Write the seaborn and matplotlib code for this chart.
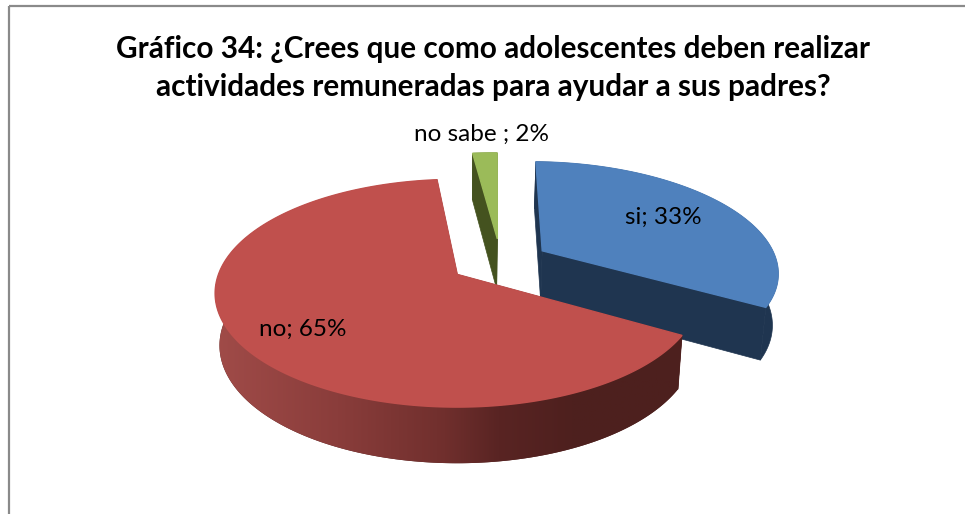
import numpy as np
import matplotlib
matplotlib.use("Agg")
import matplotlib.pyplot as plt
import seaborn as sns
from matplotlib.colors import LinearSegmentedColormap
from matplotlib.patches import Rectangle
from matplotlib.transforms import Transform

categories = ["si", "no", "no sabe "]
percentages = [33, 65, 2]
title_lines = ["Gráfico 34: ¿Crees que como adolescentes deben realizar",
               "actividades remuneradas para ayudar a sus padres?"]
top_colors = ["#4f81bd", "#c0504d", "#9bbb59"]
wall_colors = ["#1f3550", "#4f201e", "#44521f"]

sns.set_theme(style="white")
plt.rcParams["font.family"] = ["Lato", "DejaVu Sans"]

PX, PY, RX, RY, K = 458.0, 275.0, 239.0, 111.0, -0.165
DEPTH, SHRINK = 51.5, 0.982


class Tilt(Transform):
    """Perspective view of the pie plane, onto the pixel-like data axes."""
    input_dims = output_dims = 2
    is_separable = False

    def transform_non_affine(self, values):
        v = np.asarray(values, dtype=float)
        w = 1 - K * v[:, 1]
        return np.column_stack([PX + RX * v[:, 0] / w, PY - RY * v[:, 1] / w])


def lowered(xy, plane):
    """The same points on the underside of the tilted cylinder."""
    w = 1 - 0.5 * K * plane[:, 1]
    return np.column_stack([PX + (xy[:, 0] - PX) * SHRINK, xy[:, 1] + DEPTH / w])


fig = plt.figure(figsize=(9.65, 5.14), dpi=100)
ax = fig.add_axes([0, 0, 1, 1])
tilt = Tilt()

# the pie supplies each slice's angles and exploded centre
wedges, _ = ax.pie(percentages, explode=[0.21, 0.22, 0.22], center=(0.182, 0.124),
                   startangle=88.5, counterclock=False, colors=top_colors,
                   wedgeprops={"linewidth": 0})
ax.set_frame_on(False)

red_ramp = LinearSegmentedColormap.from_list(
    "wall", [(0.0, "#a34d4a"), (0.28, "#8a3d3b"), (0.5, "#702f2d"),
             (0.61, "#592423"), (0.76, "#4e201e"), (1.0, "#4d201e")])

order = [2, 0, 1]  # back to front: green, blue, red
for rank, i in enumerate(order):
    wedge = wedges[i]
    wedge.set_visible(False)
    cx, cy = wedge.center
    th = np.radians(np.linspace(wedge.theta1, wedge.theta2, 360))
    arc = np.column_stack([cx + wedge.r * np.cos(th), cy + wedge.r * np.sin(th)])
    apex = np.array([[cx, cy]])
    z = 3 + 2 * rank

    # the two cut faces
    for rim in (arc[:1], arc[-1:]):
        edge = np.vstack([apex, rim])
        top = tilt.transform(edge)
        bottom = lowered(top, edge)
        ax.fill(np.r_[top[:, 0], bottom[::-1, 0]], np.r_[top[:, 1], bottom[::-1, 1]],
                facecolor=wall_colors[i], edgecolor=wall_colors[i], lw=0.5, zorder=z)

    # the outer wall
    top = tilt.transform(arc)
    bottom = lowered(top, arc)
    wall, = ax.fill(np.r_[top[:, 0], bottom[::-1, 0]], np.r_[top[:, 1], bottom[::-1, 1]],
                    facecolor=wall_colors[i], edgecolor=wall_colors[i], lw=0.5, zorder=z)
    if i == 1:
        wall.set_edgecolor("none")
        ramp = ax.imshow(np.linspace(0, 1, 256)[None, :], cmap=red_ramp, aspect="auto",
                         extent=(200, 690, 480, 280), zorder=z + 0.1)
        ramp.set_clip_path(wall)

    # the slice's upper face, its own colour covering the wall's thin edge
    face = tilt.transform(np.vstack([apex, arc]))
    ax.fill(face[:, 0], face[:, 1], facecolor=top_colors[i], edgecolor=top_colors[i],
            lw=1.0, zorder=z + 0.5)

ax.set_aspect("auto")
ax.set_xlim(0, 965)
ax.set_ylim(514, 0)

ax.add_patch(Rectangle((9, 6), 980, 540, fill=False, edgecolor="#8a8a8a", lw=1.6, zorder=1))

ax.text(493, 49, title_lines[0], ha="center", va="center", fontsize=21.4, fontweight="bold",
        color="black", zorder=20)
ax.text(493, 87, title_lines[1], ha="center", va="center", fontsize=21.4, fontweight="bold",
        color="black", zorder=20)

label_at = [(663, 217), (303, 329), (482, 134)]
for name, pct, (lx, ly) in zip(categories, percentages, label_at):
    ax.text(lx, ly, f"{name}; {pct}%", ha="center", va="center", fontsize=17.5,
            color="black", zorder=20)

fig.savefig("out.png", dpi=100, facecolor="white")
